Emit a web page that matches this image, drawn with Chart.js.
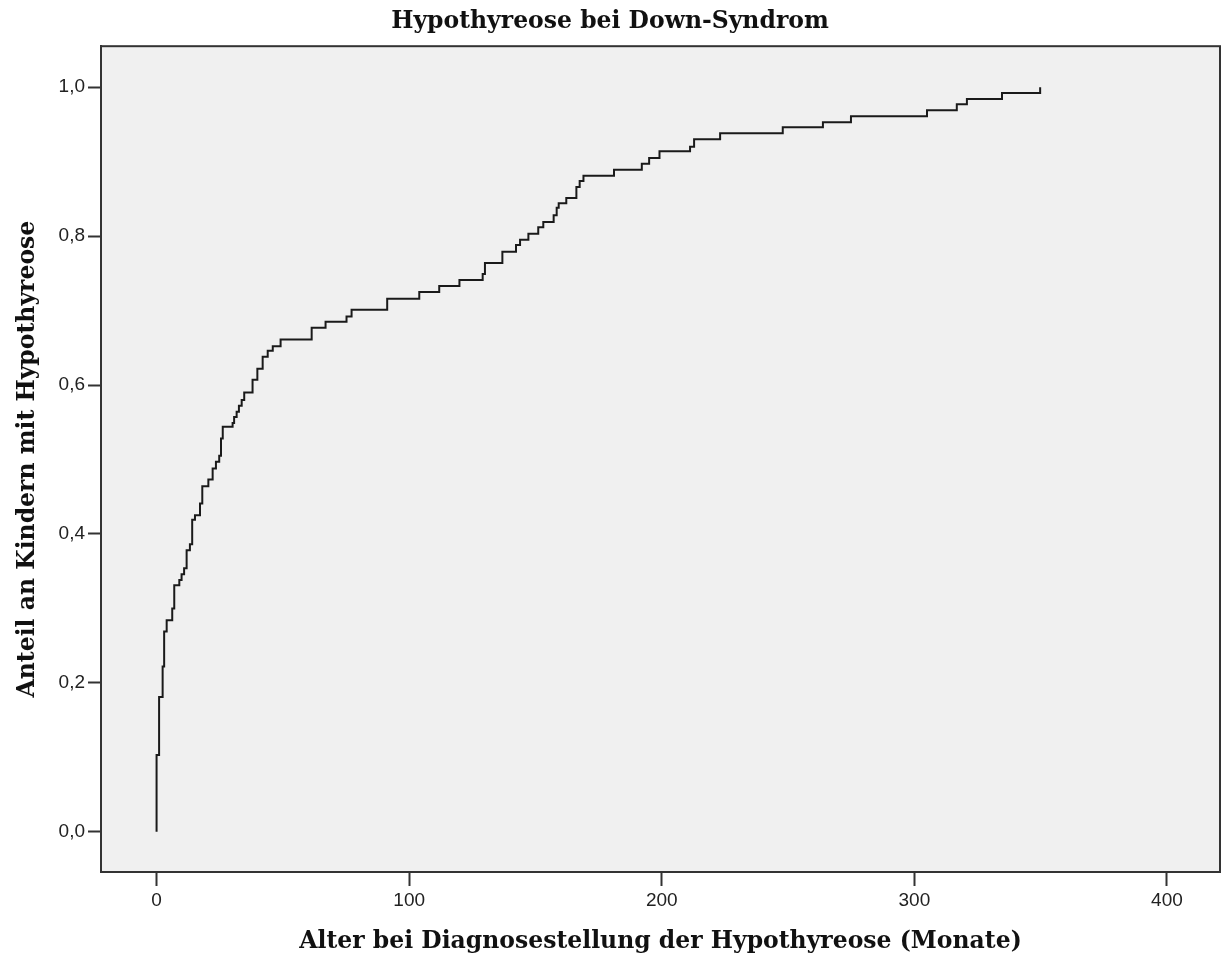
<!DOCTYPE html>
<html lang="de">
<head>
<meta charset="utf-8">
<title>Hypothyreose bei Down-Syndrom</title>
<script src="https://cdn.jsdelivr.net/npm/chart.js@4.4.1/dist/chart.umd.min.js"></script>
<style>
  html, body { margin: 0; padding: 0; background: #ffffff; }
  #wrap { width: 1222px; height: 960px; }
</style>
</head>
<body>
<div id="wrap"><canvas id="kmChart" width="1222" height="960"></canvas></div>
<script>
// Cumulative share of children diagnosed, stepping up at each diagnosis age (months)
const eventMonths = [
    0, 0, 1.0, 2.4, 3.0, 4.0, 6.2, 7.0, 9.0, 9.9, 10.9, 11.9, 13.2, 14.1, 15.2, 17.2,
    18.1, 20.5, 22.2, 23.5, 24.8, 25.5, 26.2, 30.1, 30.7, 31.7, 32.6, 33.7, 34.7,
    38.0, 39.9, 42.0, 44.0, 46.0, 49.1, 61.4, 66.9, 75.2, 77.2, 91.3, 104.0, 111.9,
    119.9, 129.1, 130.0, 136.9, 142.3, 143.9, 147.2, 151.1, 153.1, 157.2, 158.4,
    159.2, 162.2, 166.2, 167.5, 169.0, 181.1, 192.1, 195.0, 199.1, 211.2, 212.8,
    223.1, 247.9, 263.8, 274.9, 305.0, 316.8, 320.8, 334.7, 349.8
];
const cumProportion = [
    0, 0.103, 0.181, 0.222, 0.269, 0.284, 0.300, 0.331, 0.338, 0.346, 0.354, 0.378, 0.386, 0.419, 0.425, 0.441,
    0.464, 0.473, 0.488, 0.497, 0.505, 0.528, 0.544, 0.549, 0.557, 0.564, 0.572, 0.580, 0.590,
    0.607, 0.622, 0.638, 0.646, 0.652, 0.661, 0.677, 0.685, 0.692, 0.701, 0.716, 0.725, 0.733,
    0.741, 0.749, 0.764, 0.779, 0.788, 0.795, 0.803, 0.812, 0.819, 0.828, 0.838,
    0.844, 0.851, 0.866, 0.874, 0.881, 0.889, 0.897, 0.905, 0.914, 0.920, 0.930,
    0.938, 0.946, 0.953, 0.961, 0.969, 0.977, 0.984, 0.992, 1.0
];

const xTicks = [0, 100, 200, 300, 400];
const yTicks = [0, 0.2, 0.4, 0.6, 0.8, 1.0];

const axisColor = '#333333';
const serifBold = { family: 'DejaVu Serif', weight: 'bold', size: 23.5, lineHeight: 1.2 };

// grey plot background and the box around it
const plotFrame = {
    id: 'plotFrame',
    beforeDraw(chart) {
        const { ctx, chartArea: a } = chart;
        ctx.save();
        ctx.fillStyle = '#f0f0f0';
        ctx.fillRect(a.left, a.top, a.right - a.left, a.bottom - a.top);
        ctx.restore();
    },
    afterDraw(chart) {
        const { ctx, chartArea: a } = chart;
        ctx.save();
        ctx.strokeStyle = axisColor;
        ctx.lineWidth = 2;
        ctx.strokeRect(a.left, a.top, a.right - a.left, a.bottom - a.top);
        ctx.restore();
    }
};

const points = eventMonths.map((m, i) => ({ x: m, y: cumProportion[i] }));

new Chart(document.getElementById('kmChart'), {
    type: 'scatter',
    data: {
        datasets: [{
            data: points,
            showLine: true,
            stepped: 'before',
            borderColor: '#1a1a1a',
            borderWidth: 2,
            pointRadius: 0,
            fill: false
        }]
    },
    options: {
        responsive: false,
        animation: false,
        layout: { padding: { left: 0, right: 2, top: 0, bottom: 0 } },
        plugins: {
            legend: { display: false },
            tooltip: { enabled: false },
            title: {
                display: true,
                text: 'Hypothyreose bei Down-Syndrom',
                color: '#111111',
                font: serifBold,
                padding: { top: 8, bottom: 10 }
            }
        },
        scales: {
            x: {
                type: 'linear',
                min: -22,
                max: 421,
                afterBuildTicks: (scale) => { scale.ticks = xTicks.map(v => ({ value: v })); },
                afterFit: (scale) => { scale.height = 88; },
                ticks: {
                    color: '#222222',
                    font: { family: 'Liberation Sans', size: 19 },
                    padding: 3,
                    maxRotation: 0
                },
                grid: { drawOnChartArea: false, drawTicks: true, tickLength: 14, tickWidth: 2, color: axisColor },
                border: { display: true, color: axisColor, width: 2 },
                title: {
                    display: true,
                    text: 'Alter bei Diagnosestellung der Hypothyreose (Monate)',
                    color: '#111111',
                    font: serifBold,
                    padding: { top: 0, bottom: 4 }
                }
            },
            y: {
                type: 'linear',
                min: -0.054,
                max: 1.055,
                afterBuildTicks: (scale) => { scale.ticks = yTicks.map(v => ({ value: v })); },
                afterFit: (scale) => { scale.width = 101; },
                ticks: {
                    color: '#222222',
                    font: { family: 'Liberation Sans', size: 19 },
                    padding: 3,
                    callback: (v) => v.toFixed(1).replace('.', ',')
                },
                grid: { drawOnChartArea: false, drawTicks: true, tickLength: 13, tickWidth: 2, color: axisColor },
                border: { display: true, color: axisColor, width: 2 },
                title: {
                    display: true,
                    text: 'Anteil an Kindern mit Hypothyreose',
                    color: '#111111',
                    font: serifBold,
                    padding: { top: 14, bottom: 0 }
                }
            }
        }
    },
    plugins: [plotFrame]
});
</script>
</body>
</html>
